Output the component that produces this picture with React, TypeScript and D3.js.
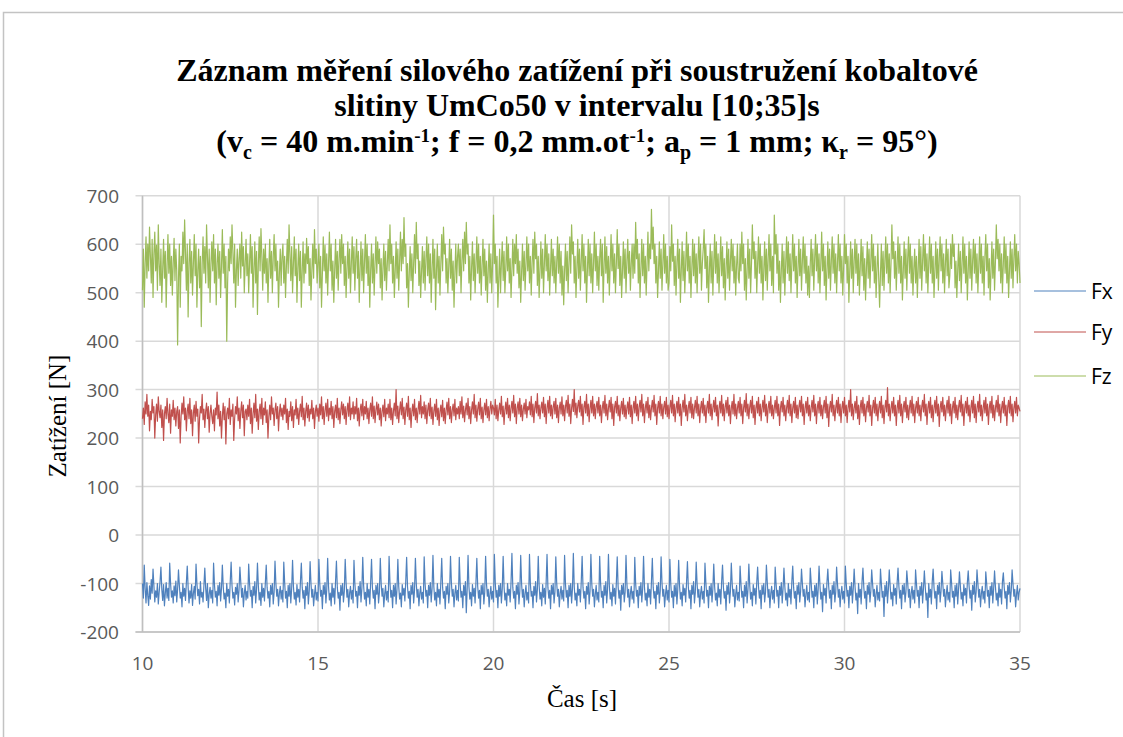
import React from "react";
import * as d3 from "d3";

// time span of the samples (evenly sampled over it)
const T_START = 10;
const T_END = 35;

const X_TICKS = [10, 15, 20, 25, 30, 35];
const Y_TICKS = [-200, -100, 0, 100, 200, 300, 400, 500, 600, 700];
const SERIES_NAMES = ["Fx", "Fy", "Fz"];

// Fx [N], one row per second
const FX = [
-100,-130,-62,-110,-140,-98,-125,-145,-105,-132,-92,-120,-70,-105,-138,-115,-128,-100,-142,-118,-96,-66,-112,-135,-102,-146,-120,-98,-130,-110,-135,-58,-100,-128,-115,-140,-105,-125,-95,-138,
-112,-72,-104,-130,-118,-148,-100,-126,-110,-135,-98,-64,-108,-140,-115,-130,-102,-145,-120,-106,-132,-60,-100,-125,-112,-142,-96,-128,-118,-138,-104,-68,-110,-135,-100,-150,-122,-108,-130,-114,
-140,-58,-102,-128,-116,-146,-104,-124,-98,-136,-110,-62,-106,-132,-120,-150,-100,-126,-112,-140,-96,-56,-104,-130,-118,-144,-108,-122,-100,-138,-114,-66,-98,-128,-110,-148,-120,-104,-134,-116,
-130,-60,-100,-126,-114,-150,-106,-124,-96,-140,-112,-58,-104,-134,-118,-145,-100,-128,-110,-136,-98,-62,-108,-130,-116,-148,-104,-122,-100,-142,-118,-54,-100,-126,-112,-146,-120,-106,-132,-114,
-138,-56,-98,-130,-116,-150,-104,-126,-100,-140,-110,-52,-106,-132,-118,-144,-102,-128,-112,-138,-96,-58,-108,-130,-114,-152,-106,-124,-98,-142,-116,-55,-100,-128,-112,-146,-122,-104,-134,-118,
-136,-50,-100,-126,-114,-152,-104,-122,-98,-140,-112,-48,-106,-134,-120,-146,-100,-128,-110,-142,-96,-54,-108,-130,-118,-155,-104,-124,-100,-138,-116,-50,-98,-128,-112,-148,-120,-106,-132,-114,
-140,-52,-100,-126,-116,-150,-106,-124,-96,-138,-110,-46,-104,-132,-118,-146,-100,-128,-112,-142,-98,-50,-108,-130,-114,-152,-104,-122,-100,-140,-118,-48,-100,-126,-110,-148,-122,-104,-134,-116,
-138,-44,-98,-128,-114,-150,-104,-126,-100,-142,-112,-50,-106,-132,-120,-148,-102,-124,-110,-136,-96,-46,-106,-130,-116,-152,-104,-122,-98,-140,-114,-48,-100,-128,-112,-146,-120,-106,-132,-118,
-140,-45,-100,-126,-114,-150,-104,-124,-98,-138,-110,-42,-106,-134,-118,-146,-100,-128,-112,-142,-96,-48,-108,-130,-116,-152,-106,-122,-100,-140,-116,-44,-98,-126,-112,-148,-120,-104,-134,-114,
-136,-46,-100,-128,-116,-150,-104,-124,-96,-160,-112,-42,-106,-132,-118,-146,-102,-126,-110,-140,-98,-48,-106,-130,-114,-152,-104,-122,-100,-142,-118,-44,-100,-126,-112,-148,-122,-106,-132,-116,
-138,-40,-98,-128,-114,-150,-104,-126,-100,-140,-110,-44,-106,-134,-120,-146,-100,-124,-112,-138,-96,-38,-108,-130,-116,-152,-104,-122,-98,-142,-116,-42,-100,-128,-112,-148,-120,-104,-134,-118,
-140,-40,-100,-126,-116,-150,-106,-124,-96,-138,-112,-44,-104,-132,-118,-146,-102,-128,-110,-142,-98,-40,-108,-130,-114,-152,-104,-122,-100,-140,-118,-45,-98,-126,-112,-148,-120,-106,-132,-114,
-136,-42,-100,-128,-114,-150,-104,-126,-100,-140,-110,-38,-106,-134,-120,-146,-100,-124,-112,-138,-96,-44,-108,-130,-116,-152,-106,-122,-98,-142,-116,-40,-100,-126,-112,-148,-122,-104,-134,-118,
-138,-44,-98,-128,-116,-150,-104,-124,-96,-140,-112,-40,-104,-132,-118,-146,-102,-126,-110,-142,-98,-45,-106,-130,-114,-155,-104,-122,-100,-138,-118,-42,-100,-128,-112,-148,-120,-106,-132,-116,
-140,-46,-100,-126,-114,-150,-106,-124,-98,-138,-110,-44,-106,-134,-120,-146,-100,-128,-112,-142,-96,-48,-108,-130,-116,-152,-104,-122,-98,-140,-116,-45,-98,-126,-112,-148,-122,-104,-134,-114,
-138,-50,-100,-128,-116,-150,-104,-126,-100,-142,-112,-52,-104,-132,-118,-146,-102,-124,-110,-138,-98,-55,-106,-130,-114,-152,-104,-122,-96,-140,-118,-56,-100,-128,-112,-148,-120,-106,-132,-116,
-140,-58,-98,-126,-114,-150,-106,-124,-100,-138,-110,-60,-106,-134,-120,-146,-100,-128,-112,-142,-96,-62,-108,-130,-116,-155,-104,-122,-98,-140,-116,-58,-100,-126,-112,-148,-122,-104,-134,-118,
-136,-64,-100,-128,-116,-150,-104,-126,-96,-140,-112,-60,-104,-132,-118,-146,-102,-124,-110,-142,-98,-66,-106,-130,-114,-152,-104,-122,-100,-138,-118,-62,-98,-128,-112,-150,-120,-106,-132,-114,
-140,-66,-100,-126,-114,-150,-106,-124,-98,-140,-110,-68,-106,-134,-120,-146,-100,-128,-112,-142,-96,-64,-108,-130,-116,-152,-104,-122,-98,-138,-116,-70,-100,-126,-112,-148,-122,-104,-134,-118,
-138,-68,-98,-128,-116,-150,-104,-126,-100,-142,-112,-64,-104,-132,-118,-158,-102,-124,-110,-140,-98,-70,-106,-130,-114,-152,-104,-122,-96,-138,-118,-66,-100,-128,-112,-148,-120,-106,-132,-116,
-140,-64,-100,-126,-114,-150,-106,-124,-98,-140,-110,-70,-106,-134,-120,-162,-100,-128,-112,-142,-96,-68,-108,-130,-116,-152,-104,-122,-98,-138,-116,-72,-100,-126,-112,-148,-122,-104,-134,-118,
-136,-70,-100,-128,-116,-168,-104,-126,-96,-140,-112,-72,-104,-132,-118,-146,-102,-124,-110,-142,-98,-68,-106,-130,-114,-152,-104,-122,-100,-138,-118,-74,-98,-128,-112,-150,-120,-106,-132,-114,
-140,-72,-100,-126,-114,-150,-106,-124,-98,-140,-110,-74,-106,-134,-120,-170,-100,-128,-112,-142,-96,-70,-108,-130,-116,-152,-104,-122,-98,-138,-116,-75,-100,-126,-112,-148,-122,-104,-134,-118,
-138,-72,-98,-128,-116,-150,-104,-126,-100,-142,-112,-76,-104,-132,-118,-146,-102,-124,-110,-140,-98,-74,-106,-130,-114,-155,-104,-122,-96,-138,-118,-72,-100,-128,-112,-148,-120,-106,-132,-116,
-140,-76,-100,-126,-114,-150,-106,-124,-98,-140,-110,-74,-106,-134,-120,-146,-100,-128,-112,-142,-96,-78,-108,-130,-116,-152,-104,-122,-98,-138,-116,-72,-100,-126,-112,-148,-122,-104,-134,-118,
-110
];

// Fy [N], one row per second
const FY = [
240,262,228,275,250,290,245,268,215,255,238,280,252,265,200,248,270,235,285,255,242,268,222,258,195,250,265,240,282,250,232,270,210,258,245,278,238,262,225,255,
265,220,258,190,245,272,250,285,238,262,215,255,270,240,282,230,258,205,252,268,235,276,245,260,190,240,265,252,290,238,260,222,255,272,240,265,212,250,268,245,
230,258,215,262,248,295,240,268,225,255,200,245,272,238,265,188,250,262,240,282,228,258,245,270,195,240,265,250,285,236,262,220,255,275,242,268,205,255,260,238,
268,245,280,230,262,210,250,272,242,290,235,260,218,255,270,240,282,228,262,248,275,232,258,200,245,268,238,285,250,262,226,258,272,240,265,215,252,270,245,262,
238,268,250,282,232,260,218,255,245,275,236,265,222,258,248,280,240,262,228,255,270,244,286,238,262,225,255,272,242,268,235,260,250,278,240,262,220,255,268,245,
262,235,270,248,285,240,265,228,258,272,245,280,236,262,248,276,240,265,222,255,268,242,282,238,262,230,258,275,248,270,240,265,228,258,272,245,285,238,262,250,
275,240,265,250,282,236,262,225,258,270,246,280,238,265,250,276,240,262,230,258,272,245,285,240,266,232,258,274,248,270,238,262,225,255,268,244,280,236,262,250,
270,242,280,238,262,228,256,272,246,300,240,266,232,258,275,248,282,240,264,228,258,272,245,286,238,262,222,255,270,246,280,238,262,232,258,276,250,288,242,265,
250,275,240,268,230,258,272,246,282,240,264,228,256,270,245,280,238,262,226,255,268,244,278,236,262,230,258,274,248,282,240,265,232,258,270,246,280,238,262,250,
265,240,276,250,285,242,266,234,258,272,248,282,240,265,230,258,275,250,290,242,268,235,260,274,248,282,240,264,232,258,272,248,280,242,265,236,260,276,250,268,
262,248,280,240,268,236,258,272,250,286,244,266,228,258,274,250,282,242,268,236,262,276,252,288,244,270,230,262,275,250,282,244,268,236,260,272,250,280,242,265,
258,275,248,286,244,270,232,262,276,252,292,246,268,240,262,274,252,284,244,270,230,262,278,252,286,246,268,240,264,276,250,282,242,268,232,262,274,250,285,246,
268,236,265,278,252,288,245,270,230,262,280,255,300,248,272,242,266,278,254,286,246,270,228,264,276,252,290,246,270,234,262,278,252,286,246,270,240,265,276,252,
284,246,268,232,262,276,252,288,246,270,238,262,278,254,284,240,270,226,264,276,252,286,246,268,236,262,276,250,282,244,268,240,262,275,250,284,244,268,230,262,
276,252,286,246,270,236,264,278,254,290,246,270,232,262,276,252,284,242,268,238,262,278,254,288,246,270,228,262,276,252,286,246,270,240,264,276,250,284,244,268,
240,264,278,252,288,246,270,234,262,276,252,284,246,270,226,262,278,254,290,246,268,236,262,276,252,284,242,270,240,262,278,252,286,246,270,232,262,276,252,282,
246,268,232,262,276,252,290,246,270,238,262,278,254,284,246,268,225,262,276,252,288,246,270,236,264,278,252,284,246,268,230,262,276,250,290,246,270,240,262,276,
252,284,246,270,230,262,278,254,292,246,270,240,264,278,252,286,242,268,228,262,276,252,284,246,270,236,262,278,254,288,246,270,232,262,276,252,286,246,268,240,
262,278,252,286,246,270,226,262,276,254,284,246,268,236,262,278,252,288,246,270,232,262,276,252,284,242,268,240,264,278,254,286,246,270,228,262,276,252,284,246,
268,236,262,278,254,288,246,270,230,262,276,252,284,246,268,240,264,278,252,286,242,270,224,262,276,254,290,246,268,236,262,278,252,284,246,270,232,262,276,252,
284,246,268,232,262,278,254,300,246,270,238,262,276,252,286,240,268,228,264,278,252,284,246,270,234,262,276,254,288,246,268,226,262,278,252,284,246,270,236,262,
276,252,286,242,268,230,262,278,254,304,246,270,236,262,276,252,284,246,268,226,262,278,252,288,246,270,232,262,276,254,284,242,268,238,262,278,252,286,246,270,
232,262,276,252,284,246,268,236,264,278,254,290,246,270,228,262,276,252,284,242,268,234,262,278,252,286,246,270,224,262,276,254,284,246,268,236,262,278,252,286,
246,270,230,262,276,252,284,242,268,238,264,278,254,288,246,270,226,262,276,252,284,246,268,234,262,278,252,286,242,270,232,262,276,254,290,246,268,236,262,278,
252,284,246,270,228,262,276,252,286,242,268,236,262,278,254,288,246,270,232,262,276,252,284,246,268,226,264,278,252,286,246,270,234,262,276,252,284,246,268,262,
255
];

// Fz [N], one row per second
const FZ = [
505,590,470,560,615,530,600,545,635,575,520,610,490,580,625,545,598,505,640,560,515,590,480,548,610,530,585,470,555,620,540,600,515,575,495,560,612,525,590,545,
392,530,600,470,575,545,625,560,650,580,505,600,450,560,610,520,585,495,560,620,535,600,470,545,590,510,575,430,560,615,540,595,520,640,575,510,590,480,560,605,
545,620,520,590,475,560,600,530,585,490,555,630,540,600,510,575,400,520,590,545,615,560,640,585,520,600,470,545,590,515,570,600,530,625,555,595,500,560,610,535,
580,500,560,620,540,595,470,550,605,520,585,455,560,615,545,632,575,505,590,540,600,520,570,480,555,610,530,585,500,575,620,545,600,525,565,470,540,590,515,575,
600,520,575,490,555,610,540,640,580,525,595,500,560,615,535,590,480,550,600,525,585,470,545,605,520,580,540,612,560,595,515,570,485,545,600,530,630,560,590,520,
560,600,510,575,470,540,615,545,598,520,580,495,560,625,545,600,505,565,480,545,610,530,585,505,570,610,540,620,560,600,515,575,490,550,605,530,590,500,560,615,
540,595,505,570,610,530,585,480,550,605,525,590,500,565,620,540,600,515,575,470,545,600,520,580,495,560,615,540,605,560,590,510,570,485,550,600,525,585,505,560,
610,545,640,560,600,520,575,490,545,605,530,590,505,565,625,545,610,560,655,575,600,510,560,470,540,595,525,580,500,560,620,540,645,570,600,515,565,490,545,595,
520,585,505,570,615,535,600,520,580,480,550,610,530,590,465,545,600,520,575,495,560,620,545,635,580,600,520,570,500,555,610,530,590,505,565,470,540,600,520,575,
600,535,590,500,565,610,545,625,560,645,580,600,520,575,485,550,605,525,580,500,560,615,540,600,520,575,495,555,610,535,590,505,565,480,545,600,520,580,500,560,
660,560,600,520,575,470,530,590,500,560,605,525,585,500,550,615,545,600,520,570,490,545,610,535,600,560,620,540,590,510,565,480,540,600,525,585,505,560,615,545,
600,520,575,495,560,610,540,625,570,600,515,575,490,545,605,530,590,500,560,620,545,600,525,580,495,550,610,535,590,520,575,500,560,615,540,600,520,585,495,555,
475,545,600,525,585,500,560,615,540,640,580,605,520,575,490,550,610,530,590,505,565,620,545,600,520,575,480,545,610,535,600,520,580,500,560,625,545,600,515,575,
505,570,610,535,600,480,555,615,540,595,520,575,495,560,620,545,600,520,580,500,560,630,550,600,515,575,490,545,605,530,590,500,565,610,540,585,505,560,600,530,
600,540,645,570,610,520,580,490,550,610,535,600,520,575,495,560,625,545,600,570,672,590,635,560,600,520,575,490,545,605,530,590,505,560,620,540,600,520,575,505,
520,595,545,640,565,600,515,575,495,560,610,530,590,480,545,605,525,585,500,560,625,545,600,520,575,490,550,610,535,600,520,580,500,565,615,540,600,505,560,590,
630,550,600,510,575,480,545,600,520,585,495,560,620,540,605,520,580,500,560,615,535,595,510,570,485,550,605,530,590,505,565,610,545,600,520,575,495,555,600,530,
520,600,545,625,560,600,505,570,485,545,610,530,590,500,560,640,570,605,530,585,500,560,615,540,600,520,575,485,545,605,525,590,505,570,620,545,600,515,575,500,
660,580,620,540,600,505,565,480,545,600,520,585,495,560,615,540,605,525,580,500,560,620,545,600,520,575,490,550,610,535,590,505,565,615,540,600,520,575,495,555,
490,560,610,535,590,505,570,620,545,600,520,580,500,560,625,545,600,515,575,485,545,605,530,590,505,565,615,540,600,520,580,500,560,620,545,600,520,575,495,550,
620,560,600,520,575,480,545,605,530,590,500,565,610,540,600,515,580,495,555,610,535,595,505,570,485,550,605,530,590,510,565,620,545,600,520,575,490,550,600,530,
470,540,600,515,585,505,565,615,540,600,520,580,500,560,640,570,605,530,585,505,560,615,540,600,520,575,485,545,605,530,590,505,570,615,540,600,520,575,495,550,
590,520,575,490,550,610,530,595,505,565,620,545,600,520,580,500,560,615,540,600,520,575,490,545,605,530,590,505,570,615,545,600,520,580,500,560,610,535,590,510,
535,600,550,620,575,600,510,565,490,545,600,525,585,500,560,615,540,600,520,575,485,545,605,530,590,505,565,610,540,600,520,580,500,555,615,540,600,520,575,495,
575,620,545,600,510,570,485,545,605,530,590,505,565,640,570,610,545,600,520,580,500,560,615,540,600,520,575,490,545,605,530,590,510,570,620,545,600,520,585,560,
520
];

const COLORS = ["#4f81bd", "#c0504d", "#9bbb59"];

const W = 1123;
const H = 737;
const PLOT = { left: 142.5, right: 1020, top: 195.7, bottom: 632 };

export default function App() {
  const x = d3.scaleLinear().domain([10, 35]).range([PLOT.left, PLOT.right]);
  const y = d3.scaleLinear().domain([-200, 700]).range([PLOT.bottom, PLOT.top]);
  const makeLine = (n: number) =>
    d3
      .line<number>()
      .x((_, i) => x(T_START + (i * (T_END - T_START)) / (n - 1)))
      .y((d) => y(d));
  const series = [FX, FY, FZ];
  const tickFont = "'Open Sans', 'Liberation Sans', sans-serif";
  const serif = "'Liberation Serif', 'DejaVu Serif', serif";
  const legendY = [291, 332, 376];

  return (
    <svg
      width={W}
      height={H}
      style={{ position: "absolute", left: 0, top: 0, background: "#fff" }}
    >
      <rect x={0} y={0} width={W} height={H} fill="#fff" />
      <rect x={3.5} y={12.5} width={W + 20} height={H + 20} fill="none" stroke="#c3c3c3" strokeWidth={1.5} />

      {/* title */}
      <g style={{ fontFamily: serif }} fontWeight="bold" fontSize={32} textAnchor="middle" fill="#000">
        <text x={577} y={81}>Záznam měření silového zatížení při soustružení kobaltové</text>
        <text x={577} y={116}>slitiny UmCo50 v intervalu [10;35]s</text>
        <text x={577} y={152}>
          <tspan>(v</tspan>
          <tspan fontSize={20} dy={7}>c</tspan>
          <tspan dy={-7}> = 40 m.min</tspan>
          <tspan fontSize={19} dy={-10}>-1</tspan>
          <tspan dy={10}>; f = 0,2 mm.ot</tspan>
          <tspan fontSize={19} dy={-10}>-1</tspan>
          <tspan dy={10}>; a</tspan>
          <tspan fontSize={20} dy={7}>p</tspan>
          <tspan dy={-7}> = 1 mm; κ</tspan>
          <tspan fontSize={20} dy={7}>r</tspan>
          <tspan dy={-7}> = 95°)</tspan>
        </text>
      </g>

      {/* gridlines */}
      <g stroke="#d9d9d9" strokeWidth={1.5}>
        {Y_TICKS.map((t) => (
          <line key={"gy" + t} x1={PLOT.left - 7} x2={PLOT.right} y1={y(t)} y2={y(t)} />
        ))}
        {X_TICKS.map((t) => (
          <line key={"gx" + t} x1={x(t)} x2={x(t)} y1={PLOT.top} y2={PLOT.bottom} />
        ))}
      </g>
      {/* axes */}
      <g stroke="#bfbfbf" strokeWidth={1.5}>
        <line x1={PLOT.left} x2={PLOT.left} y1={PLOT.top} y2={PLOT.bottom} />
        <line x1={PLOT.left - 7} x2={PLOT.right} y1={PLOT.bottom} y2={PLOT.bottom} />
      </g>

      {/* tick labels */}
      <g style={{ fontFamily: tickFont }} fontSize={19} fill="#595959">
        {Y_TICKS.map((t) => (
          <text key={"ty" + t} x={119} y={y(t) + 7} textAnchor="end">{t}</text>
        ))}
        {X_TICKS.map((t) => (
          <text key={"tx" + t} x={x(t)} y={670} textAnchor="middle">{t}</text>
        ))}
      </g>

      {/* series */}
      <g fill="none" strokeWidth={1.2} strokeLinejoin="round">
        {series.map((s, i) => (
          <path key={SERIES_NAMES[i]} d={makeLine(s.length)(s) || ""} stroke={COLORS[i]} />
        ))}
      </g>

      {/* axis titles */}
      <text
        style={{ fontFamily: serif }}
        fontSize={25}
        textAnchor="middle"
        transform={`translate(66,416) rotate(-90)`}
      >
        Zatížení [N]
      </text>
      <text style={{ fontFamily: serif }} fontSize={25} textAnchor="middle" x={582} y={707}>
        Čas [s]
      </text>

      {/* legend */}
      <g style={{ fontFamily: tickFont }} fontSize={21} fill="#000">
        {SERIES_NAMES.map((n, i) => (
          <g key={"lg" + n}>
            <line x1={1034} x2={1086} y1={legendY[i]} y2={legendY[i]} stroke={COLORS[i]} strokeWidth={1} />
            <text x={1091} y={legendY[i] + 8}>{n}</text>
          </g>
        ))}
      </g>
    </svg>
  );
}
